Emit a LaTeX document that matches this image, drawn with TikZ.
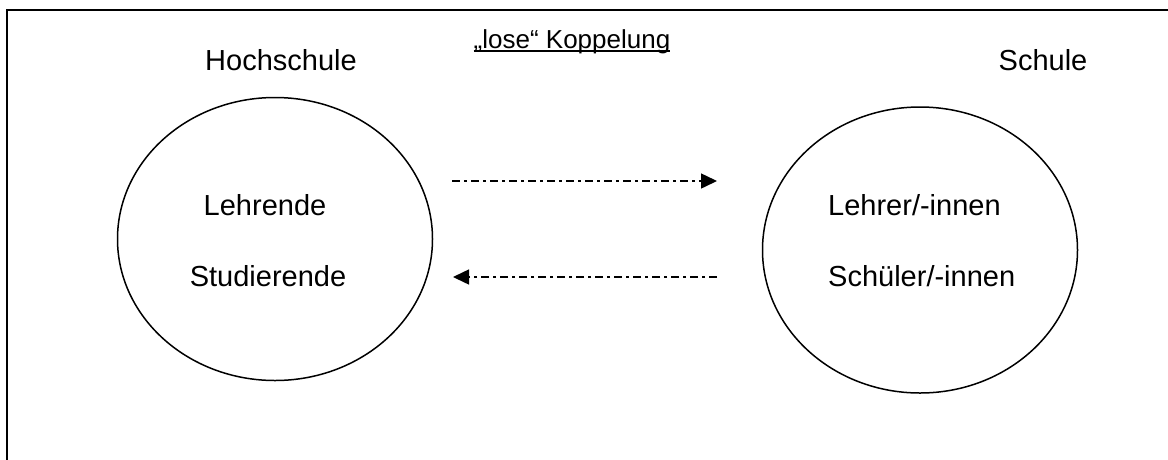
\documentclass[tikz,border=0pt]{standalone}
\usepackage{fontspec}
\setmainfont{Liberation Sans}
\usetikzlibrary{arrows.meta}
\tikzset{
  lbl/.style={anchor=base, inner sep=0pt, font=\fontsize{29}{34}\selectfont},
  ttl/.style={anchor=base, inner sep=0pt, font=\fontsize{26}{30}\selectfont},
  group/.style={draw=black, line width=1.5pt, ellipse},
  frame/.style={draw=black, line width=2.2pt},
  flow/.style={line width=1.5pt, dash pattern=on 8pt off 4pt on 3pt off 4pt,
    -{Triangle[length=16pt, width=15pt]}}
}
\usetikzlibrary{shapes.geometric}
\begin{document}
\begin{tikzpicture}[x=1pt,y=-1pt]
\useasboundingbox (0,0) rectangle (1168,459);
\draw[frame] (7,465) -- (7,10) -- (1175,10);
\node[ttl] (title) at (572,48) {„lose“ Koppelung};
\draw[line width=1.5pt] ([yshift=-3pt]title.base west) -- ([yshift=-3pt]title.base east);
\node[lbl] (hs) at (281,70) {Hochschule};
\node[lbl] (sch) at (1043,70) {Schule};
\node[group, minimum width=315pt, minimum height=283pt] (left) at (275,239) {};
\node[group, minimum width=315pt, minimum height=286pt] (right) at (920,250) {};
\node[lbl] (lehrende) at (265,215) {Lehrende};
\node[lbl] (studierende) at (268,286) {Studierende};
\node[lbl, anchor=base west] (lehrer) at (828,215) {Lehrer/-innen};
\node[lbl, anchor=base west] (schueler) at (828,286) {Schüler/-innen};
\coordinate (a1) at (452,181);
\coordinate (b1) at (717,181);
\coordinate (a2) at (717,277);
\coordinate (b2) at (453,277);
\draw[flow] (a1) -- (b1);
\draw[flow] (a2) -- (b2);
\end{tikzpicture}
\end{document}
